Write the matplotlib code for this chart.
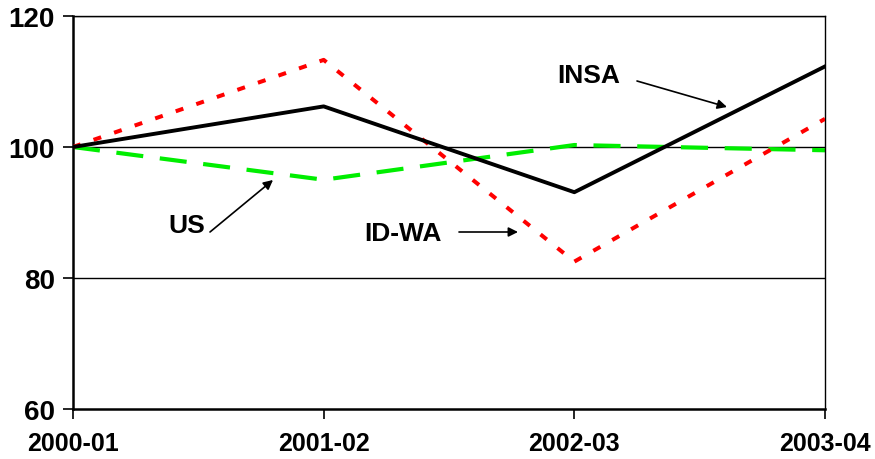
import matplotlib
matplotlib.use("Agg")
import matplotlib.pyplot as plt

categories = ["2000-01", "2001-02", "2002-03", "2003-04"]
insa = [100, 106.2, 93.1, 112.3]
idwa = [100, 113.3, 82.5, 104.3]
us = [100, 95.0, 100.3, 99.5]
yticks = [60, 80, 100, 120]

plt.rcParams['font.family'] = ['Liberation Sans', 'DejaVu Sans']
fig = plt.figure(figsize=(8.75, 4.6), dpi=100)
ax = fig.add_axes([73/875, 1-410/460, (825-73)/875, (410-17)/460])

x = list(range(len(categories)))
for v in [80, 100, 120]:
    ax.axhline(v, color='black', lw=1.0, zorder=1)

ax.plot(x, us, color='#00ee00', lw=3.0, dashes=(6.5, 4.0), zorder=2)
ax.plot(x, idwa, color='#ff0000', lw=2.9, dashes=(2.0, 3.4), zorder=3)
ax.plot(x, insa, color='black', lw=2.8, zorder=4)

ax.set_xlim(0, 3)
ax.set_ylim(60, 120)
ax.set_xticks(x)
ax.set_xticklabels(categories, fontsize=18, fontweight='bold')
ax.set_yticks(yticks)
ax.set_yticklabels([str(t) for t in yticks], fontsize=20, fontweight='bold')
ax.tick_params(axis='x', direction='out', length=7, width=1.2, pad=9)
ax.tick_params(axis='y', direction='out', length=7, width=1.2, pad=6)
for s in ['left', 'bottom']:
    ax.spines[s].set_linewidth(1.8)
ax.spines['right'].set_linewidth(1.0)
ax.spines['top'].set_linewidth(1.0)

def px(xp, yp):
    return (xp/875, 1 - yp/460)

arrow = dict(arrowstyle='-|>', color='black', lw=1.2, mutation_scale=14, shrinkA=0, shrinkB=0)
ax.annotate('', xy=px(727, 108), xytext=px(637, 82), xycoords='figure fraction', textcoords='figure fraction', arrowprops=arrow)
ax.annotate('', xy=px(273, 181), xytext=px(210, 233), xycoords='figure fraction', textcoords='figure fraction', arrowprops=arrow)
ax.annotate('', xy=px(518, 233), xytext=px(459, 233), xycoords='figure fraction', textcoords='figure fraction', arrowprops=arrow)

fig.text(*px(589, 76), 'INSA', fontsize=19, fontweight='bold', ha='center', va='center')
fig.text(*px(187, 226), 'US', fontsize=19, fontweight='bold', ha='center', va='center')
fig.text(*px(403, 234), 'ID-WA', fontsize=19, fontweight='bold', ha='center', va='center')

fig.savefig('out.png', dpi=100)
